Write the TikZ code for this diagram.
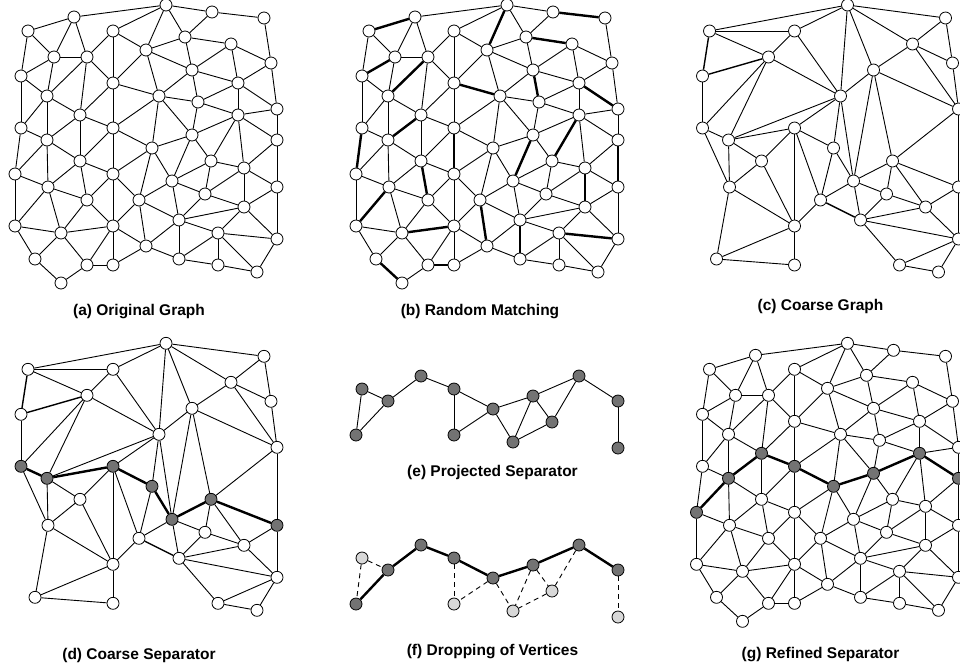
\documentclass[tikz,border=0pt]{standalone}
\usepackage{fontspec}
\setmainfont{Liberation Sans}
\definecolor{sepgray}{RGB}{115,115,115}
\definecolor{dropgray}{RGB}{216,216,216}
\tikzset{
  vtx/.style={circle, draw, fill=white, line width=0.8pt, minimum size=12pt, inner sep=0pt},
  sepvtx/.style={vtx, fill=sepgray},
  dropvtx/.style={vtx, fill=dropgray},
  link/.style={line width=0.9pt},
  heavylink/.style={line width=1.4pt},
  cutlink/.style={line width=2.4pt},
  droplink/.style={line width=0.9pt, dash pattern=on 5pt off 4pt},
  capt/.style={font=\fontsize{15.5}{18}\selectfont\bfseries}
}
% vertex positions of the fine graph (pixels, panel a)
\def\finepos{1/166/5, 2/212/12, 3/264/18, 4/74/17, 5/28/31, 6/113/31, 7/185/37,
  8/231/44, 9/146/50, 10/54/57, 11/87/57, 12/271/63, 13/192/70, 14/21/76,
  15/113/83, 16/238/83, 17/47/96, 18/159/96, 19/198/102, 20/277/109,
  21/80/115, 22/238/115, 23/21/128, 24/113/128, 25/192/135, 26/47/140,
  27/277/140, 28/152/148, 29/80/161, 30/211/161, 31/244/168, 32/15/174,
  33/113/174, 34/172/181, 35/48/187, 36/277/187, 37/205/194, 38/87/200,
  39/139/200, 40/244/207, 41/179/220, 42/15/226, 43/113/226, 44/61/233,
  45/218/233, 46/277/239, 47/146/246, 48/35/259, 49/179/259, 50/87/265,
  51/113/265, 52/218/265, 53/257/272, 54/61/283}
\def\fineedges{1/2, 1/4, 1/6, 1/7, 1/9, 2/3, 2/7, 3/12, 4/5, 4/10, 4/11, 5/10,
  5/14, 6/9, 6/11, 6/15, 7/8, 7/9, 7/13, 8/12, 8/13, 8/16, 9/13, 9/15, 9/18,
  10/11, 10/14, 10/17, 11/15, 11/17, 11/21, 12/16, 12/20, 13/16, 13/18, 13/19,
  14/17, 14/23, 15/18, 15/21, 15/24, 16/19, 16/20, 16/22, 17/21, 17/23, 17/26,
  18/19, 18/24, 18/25, 18/28, 19/22, 19/25, 20/22, 20/27, 21/24, 21/26, 21/29,
  22/25, 22/27, 22/30, 22/31, 23/26, 23/32, 24/28, 24/29, 24/33, 25/28, 25/30,
  25/34, 26/29, 26/32, 26/35, 27/31, 27/36, 28/33, 28/34, 28/39, 29/33, 29/35,
  29/38, 30/31, 30/34, 30/37, 31/36, 31/37, 31/40, 32/35, 32/42, 33/38, 33/39,
  33/43, 34/37, 34/39, 34/41, 35/38, 35/42, 35/44, 36/40, 36/46, 37/40, 37/41,
  38/43, 38/44, 39/41, 39/43, 39/47, 40/41, 40/45, 40/46, 41/45, 41/47, 41/49,
  42/44, 42/48, 43/44, 43/47, 43/50, 43/51, 44/48, 44/50, 45/46, 45/49, 45/52,
  45/53, 46/53, 47/49, 47/51, 48/54, 49/52, 50/51, 50/54, 52/53}
\def\matching{4/5, 1/9, 2/3, 7/8, 10/14, 11/17, 15/18, 13/19, 16/20, 21/26,
  23/32, 24/33, 22/30, 25/34, 29/38, 31/40, 27/36, 35/42, 43/44, 39/47, 41/49,
  45/46, 48/54, 50/51}
\def\coarsenodes{1,3,5,6,8,11,12,13,14,18,20,23,24,26,28,29,30,34,35,36,37,39,
  40,41,43,46,48,51,52,53}
\def\coarseedges{1/3, 1/5, 1/6, 1/8, 1/13, 1/18, 3/8, 3/12, 5/6, 5/11, 6/11,
  6/18, 8/12, 8/13, 8/20, 11/18, 11/23, 11/26, 12/20, 14/23, 13/18, 13/20,
  13/30, 13/34, 18/24, 18/26, 18/28, 18/34, 20/30, 20/36, 23/26, 23/35, 24/26,
  24/28, 24/29, 24/39, 24/43, 26/29, 26/35, 28/34, 28/39, 30/34, 30/36, 30/37,
  30/40, 29/35, 29/43, 34/37, 34/39, 34/41, 35/43, 35/48, 36/40, 36/46, 37/40,
  37/41, 39/43, 40/41, 40/46, 41/46, 41/52, 43/48, 43/51, 46/52, 46/53, 48/51,
  52/53}
\def\coarseheavy{5/14, 11/14, 39/41}
\def\coarsecut{23/26, 26/24, 24/28, 28/34, 34/30, 30/36}
\def\finecut{32/26, 26/21, 21/24, 24/28, 28/25, 25/22, 22/27}
\def\dropped{23/26, 23/32, 24/33, 28/33, 28/34, 25/34, 25/30, 30/34, 22/30, 27/36}
\begin{document}
\begin{tikzpicture}[x=1pt, y=-1pt]
  \useasboundingbox (0,0) rectangle (960,665);
  \clip (0,0) rectangle (960,665);
  \foreach \i/\px/\py in \finepos
    \coordinate (p\i) at (\px,\py);

  % (a) original graph
  \foreach \i in {1,...,54}
    \node[vtx] (a\i) at (p\i) {};
  \foreach \u/\v in \fineedges
    \draw[link] (a\u) -- (a\v);
  \node[capt] (capa) at (139,312) {(a) Original Graph};

  % (b) random matching
  \foreach \i in {1,...,54}
    \node[vtx] (b\i) at ([shift={(341,0)}]p\i) {};
  \foreach \u/\v in \fineedges
    \draw[link] (b\u) -- (b\v);
  \foreach \u/\v in \matching
    \draw[cutlink] (b\u) -- (b\v);
  \node[capt] (capb) at (480,312) {(b) Random Matching};

  % (c) coarse graph
  \foreach \i in \coarsenodes
    \node[vtx] (c\i) at ([shift={(681.5,0)}]p\i) {};
  \foreach \u/\v in \coarseedges
    \draw[link] (c\u) -- (c\v);
  \foreach \u/\v in \coarseheavy
    \draw[heavylink] (c\u) -- (c\v);
  \node[capt] (capc) at (820.5,306) {(c) Coarse Graph};

  % (d) coarse separator
  \foreach \i in {1,3,5,6,8,11,12,13,14,18,20,29,35,37,39,40,41,43,46,48,51,52,53}
    \node[vtx] (d\i) at ([shift={(0,338.3)}]p\i) {};
  \foreach \i in {23,24,26,28,30,34,36}
    \node[sepvtx] (d\i) at ([shift={(0,338.3)}]p\i) {};
  \foreach \u/\v in \coarseedges
    \draw[link] (d\u) -- (d\v);
  \foreach \u/\v in \coarseheavy
    \draw[heavylink] (d\u) -- (d\v);
  \foreach \u/\v in \coarsecut
    \draw[cutlink] (d\u) -- (d\v);
  \node[capt] (capd) at (139,655) {(d) Coarse Separator};

  % (e) projected separator
  \foreach \i in {21,22,23,24,25,26,27,28,30,32,33,34,36}
    \node[sepvtx] (e\i) at ([shift={(341,261)}]p\i) {};
  \foreach \u/\v in {21/26, 21/24, 22/25, 22/27, 22/30, 23/26, 23/32, 24/28,
    24/33, 25/28, 25/30, 25/34, 26/32, 27/36, 28/33, 28/34, 30/34}
    \draw[link] (e\u) -- (e\v);
  \node[capt] (cape) at (492.5,472) {(e) Projected Separator};

  % (f) dropping of vertices
  \foreach \i in {21,22,24,25,26,27,28,32}
    \node[sepvtx] (f\i) at ([shift={(341,430)}]p\i) {};
  \foreach \i in {23,30,33,34,36}
    \node[dropvtx] (f\i) at ([shift={(341,430)}]p\i) {};
  \foreach \u/\v in \dropped
    \draw[droplink] (f\u) -- (f\v);
  \foreach \u/\v in \finecut
    \draw[cutlink] (f\u) -- (f\v);
  \node[capt] (capf) at (492.5,651.5) {(f) Dropping of Vertices};

  % (g) refined separator
  \foreach \i in {1,2,3,4,5,6,7,8,9,10,11,12,13,14,15,16,17,18,19,20,23,29,30,
    31,33,34,35,36,37,38,39,40,41,42,43,44,45,46,47,48,49,50,51,52,53,54}
    \node[vtx] (g\i) at ([shift={(681.5,338.3)}]p\i) {};
  \foreach \i in {21,22,24,25,26,27,28,32}
    \node[sepvtx] (g\i) at ([shift={(681.5,338.3)}]p\i) {};
  \foreach \u/\v in \fineedges
    \draw[link] (g\u) -- (g\v);
  \foreach \u/\v in \finecut
    \draw[cutlink] (g\u) -- (g\v);
  \node[capt] (capg) at (820.5,655) {(g) Refined Separator};
\end{tikzpicture}
\end{document}
